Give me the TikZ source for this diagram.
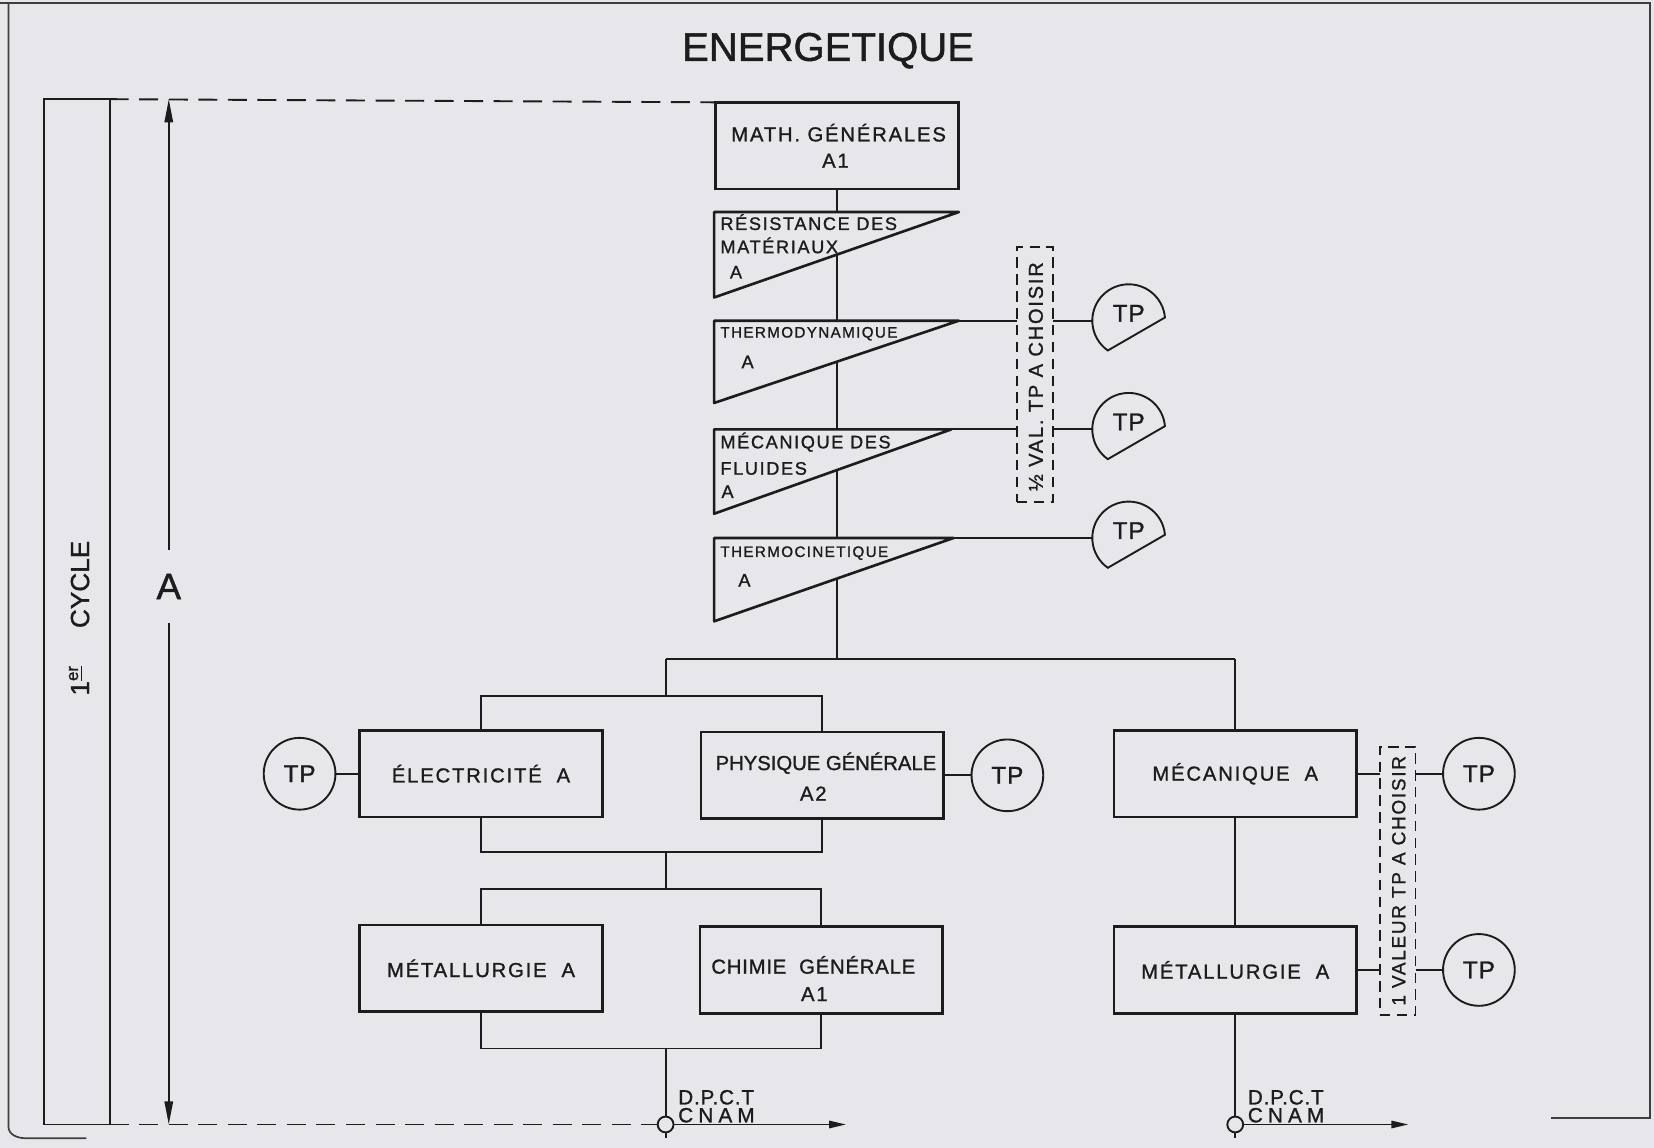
\documentclass[tikz,border=0pt]{standalone}
\usepackage{fontspec}
\setmainfont[FakeBold=1.2]{Liberation Sans}
\newfontfamily\fwide[LetterSpace=9,FakeBold=1.2]{Liberation Sans}
\newfontfamily\fmid[LetterSpace=4,FakeBold=1.2]{Liberation Sans}
\newfontfamily\fvwide[LetterSpace=25,FakeBold=1.2]{Liberation Sans}
\usetikzlibrary{arrows.meta,calc}
\definecolor{bg}{RGB}{231,231,235}
\definecolor{ink}{RGB}{28,28,28}
\tikzset{
  bx/.style={rectangle, draw=ink, line width=1.25pt, inner sep=0pt, outer sep=0pt,
    minimum width=115pt, minimum height=41pt, text=ink, font=\fwide\fontsize{9.6}{11}\selectfont},
  txt/.style={inner sep=0pt, outer sep=0pt, text=ink},
  btxt/.style={txt, font=\fwide\fontsize{9.6}{11}\selectfont},
  ttxt/.style={txt, font=\fwide\fontsize{8.6}{10}\selectfont, anchor=base west},
  tstxt/.style={txt, font=\fwide\fontsize{7.2}{9}\selectfont, anchor=base west},
  con/.style={draw=ink, line width=0.9pt},
  tri/.style={draw=ink, line width=1.25pt, fill=bg, line join=round},
  dimarr/.style={draw=ink, line width=0.8pt, -{Triangle[length=11pt,width=4pt]}},
  outarr/.style={draw=ink, line width=0.9pt, -{Triangle[length=8pt,width=3.5pt]}},
  dashline/.style={draw=ink, line width=0.9pt, dash pattern=on 9pt off 5pt},
  dbox/.style={rectangle, draw=ink, line width=0.8pt, dash pattern=on 5pt off 3pt,
    inner sep=0pt, outer sep=0pt, minimum width=17pt},
  frm/.style={draw=ink!85, line width=0.8pt},
  tpc/.style={circle, draw=ink, line width=0.9pt, minimum size=34pt, inner sep=0pt,
    outer sep=0pt, text=ink, font=\fmid\fontsize{11.5}{11.5}\selectfont},
  tpd/.style={circle, minimum size=34.5pt, inner sep=0pt, outer sep=0pt},
  tptxt/.style={txt, font=\fmid\fontsize{11.5}{11.5}\selectfont},
  smallc/.style={circle, draw=ink, line width=0.9pt, fill=bg, minimum size=7.5pt,
    inner sep=0pt, outer sep=0pt},
}
\begin{document}
\begin{tikzpicture}[x=0.5pt,y=-0.5pt]
\fill[bg] (0,0) rectangle (1568,1088);
\useasboundingbox (0,0) rectangle (1568,1088);

% frame
\draw[frm] (0,3) -- (1564,3) -- (1564,1060) -- (1470,1060);
\draw[frm] (8,3) -- (8,1068) to[out=-90,in=180] (24,1079) -- (82,1079);

% title
\node[txt, font=\fontsize{19}{19}\selectfont] (title) at (785,48) {ENERGETIQUE};

% left column
\node[rectangle, draw=ink, line width=0.9pt, minimum width=31pt, minimum height=486pt,
  inner sep=0pt, outer sep=0pt] (lbox) at (73,580) {};
\node[txt, rotate=90, font=\fontsize{12.4}{13}\selectfont] (cyc) at (75,586)
  {1\raisebox{0.8ex}{\fontsize{8}{8}\selectfont\underline{er}}\hspace{18pt}CYCLE};
\coordinate (atop) at (160,94);
\coordinate (abot) at (160,1066);
\node[txt, minimum height=35pt, font=\fontsize{17.5}{18}\selectfont] (alab) at (160,556) {A};
\draw[dimarr] (alab.north) -- (atop);
\draw[dimarr] (alab.south) -- (abot);

% math box and spine
\node[bx] (math) at (793.5,138) {};
\node[btxt, anchor=base] (mathl1) at (795,134) {MATH. GÉNÉRALES};
\node[btxt, anchor=base] (mathl2) at (792,159) {A1};
\coordinate (b1s) at (793.5,625);
\draw[con] (math.south) -- (b1s);
\draw[dashline] (lbox.north east) -- (math.north west);

% triangles
\coordinate (t1a) at (677,201); \coordinate (t1b) at (909,201); \coordinate (t1c) at (677,282);
\coordinate (t2a) at (677,304); \coordinate (t2b) at (909,304); \coordinate (t2c) at (677,382);
\coordinate (t3a) at (677,407); \coordinate (t3b) at (902,407); \coordinate (t3c) at (677,487);
\coordinate (t4a) at (677,510); \coordinate (t4b) at (904,510); \coordinate (t4c) at (677,589);
\draw[tri] (t1a) -- (t1b) -- (t1c) -- cycle;
\draw[tri] (t2a) -- (t2b) -- (t2c) -- cycle;
\draw[tri] (t3a) -- (t3b) -- (t3c) -- cycle;
\draw[tri] (t4a) -- (t4b) -- (t4c) -- cycle;

\node[ttxt] (t1l1) at (683,218) {RÉSISTANCE DES};
\node[ttxt] (t1l2) at (683,240) {MATÉRIAUX};
\node[ttxt] (t1l3) at (692,264) {A};
\node[tstxt] (t2l1) at (683,320) {THERMODYNAMIQUE};
\node[ttxt] (t2l2) at (703,349) {A};
\node[ttxt] (t3l1) at (683,425) {MÉCANIQUE DES};
\node[ttxt] (t3l2) at (683,450) {FLUIDES};
\node[ttxt] (t3l3) at (684,472) {A};
\node[tstxt] (t4l1) at (683,528) {THERMOCINETIQUE};
\node[ttxt] (t4l2) at (700,556) {A};

% dashed box 1
\node[dbox, minimum height=121pt] (vb1) at (981,355) {};
\node[txt, rotate=90, font=\fwide\fontsize{9.5}{10}\selectfont] (vb1t) at (982,357) {½ VAL. TP A CHOISIR};

% TP half circles
\node[tpd] (tp1) at (1070,304) {};
\node[tpd] (tp2) at (1070,407) {};
\node[tpd] (tp3) at (1070,510) {};
\draw[con] (tp1.5) arc[start angle=5, end angle=235, radius=17.25pt] -- cycle;
\draw[con] (tp2.5) arc[start angle=5, end angle=235, radius=17.25pt] -- cycle;
\draw[con] (tp3.5) arc[start angle=5, end angle=235, radius=17.25pt] -- cycle;
\node[tptxt] (tp1t) at ([yshift=3.5pt]tp1.center) {TP};
\node[tptxt] (tp2t) at ([yshift=3.5pt]tp2.center) {TP};
\node[tptxt] (tp3t) at ([yshift=3.5pt]tp3.center) {TP};

\draw[con] (t2b) -- (t2b -| vb1.west);
\draw[con] (t2b -| vb1.east) -- (tp1.west);
\draw[con] (t3b) -- (t3b -| vb1.west);
\draw[con] (t3b -| vb1.east) -- (tp2.west);
\draw[con] (t4b) -- (tp3.west);

% lower boxes
\node[bx] (elec) at (456,733.5) {ÉLECTRICITÉ~~A};
\node[bx] (phys) at (779.5,735) {};
\node[btxt, font=\fontsize{9.6}{11}\selectfont, anchor=base] (physl1) at (783,730) {PHYSIQUE GÉNÉRALE};
\node[btxt, anchor=base] (physl2) at (771,759) {A2};
\node[bx] (metal) at (456,918) {MÉTALLURGIE~~A};
\node[bx] (chim) at (778.5,919.5) {};
\node[btxt, font=\fmid\fontsize{9.6}{11}\selectfont, anchor=base] (chiml1) at (771,923) {CHIMIE~~GÉNÉRALE};
\node[btxt, anchor=base] (chiml2) at (772,949) {A1};
\node[bx] (meca) at (1171,733.5) {MÉCANIQUE~~A};
\node[bx] (metal2) at (1171,919.5) {MÉTALLURGIE~~A};

% bars
\coordinate (b1w) at (631,625);
\coordinate (b1e) at (1171,625);
\coordinate (b2) at (631,660);
\coordinate (b3) at (631,808);
\coordinate (b4) at (631,843);
\coordinate (b5) at (631,994);
\draw[con] (b1w) -- (b1e);
\draw[con] (b1w) -- (b2);
\draw[con] (elec.north) |- (b2) -| (phys.north);
\draw[con] (elec.south) |- (b3) -| (phys.south);
\draw[con] (b3) -- (b4);
\draw[con] (metal.north) |- (b4) -| (chim.north);
\draw[con] (metal.south) |- (b5) -| (chim.south);
\draw[con] (b1e) -- (meca.north);
\draw[con] (meca.south) -- (metal2.north);

% left TPs
\node[tpc] (tpe) at (284,733.5) {TP};
\draw[con] (tpe.east) -- (elec.west);
\node[tpc] (tpp) at (955,735) {TP};
\draw[con] (phys.east) -- (tpp.west);

% dashed box 2 and right TPs
\node[dbox, minimum height=127pt] (vb2) at (1325,835) {};
\node[txt, rotate=90, font=\fwide\fontsize{9}{10}\selectfont] (vb2t) at (1326,835) {1 VALEUR TP A CHOISIR};
\node[tpc] (tpm1) at (1402,733.5) {TP};
\node[tpc] (tpm2) at (1402,919.5) {TP};
\draw[con] (meca.east) -- (meca.east -| vb2.west);
\draw[con] (meca.east -| vb2.east) -- (tpm1.west);
\draw[con] (metal2.east) -- (metal2.east -| vb2.west);
\draw[con] (metal2.east -| vb2.east) -- (tpm2.west);

% outputs
\node[smallc] (c1) at (631,1066) {};
\node[smallc] (c2) at (1171,1066) {};
\coordinate (c1d) at (631,1079);
\coordinate (c2d) at (1171,1079);
\coordinate (c1r) at (802,1066);
\coordinate (c2r) at (1335,1066);
\draw[con] (b5) -- (c1.north);
\draw[con] (c1.south) -- (c1d);
\draw[con] (metal2.south) -- (c2.north);
\draw[con] (c2.south) -- (c2d);
\draw[outarr] (c1.east) -- (c1r);
\draw[outarr] (c2.east) -- (c2r);
\draw[dashline] (lbox.south east) -- (c1.west);

\node[txt, anchor=base west, font=\fmid\fontsize{9.8}{10}\selectfont] (d1a) at (643,1047) {D.P.C.T};
\node[txt, anchor=base west, font=\fvwide\fontsize{9.8}{10}\selectfont] (d1b) at (643,1064) {CNAM};
\node[txt, anchor=base west, font=\fmid\fontsize{9.8}{10}\selectfont] (d2a) at (1183,1047) {D.P.C.T};
\node[txt, anchor=base west, font=\fvwide\fontsize{9.8}{10}\selectfont] (d2b) at (1183,1064) {CNAM};
\end{tikzpicture}
\end{document}
